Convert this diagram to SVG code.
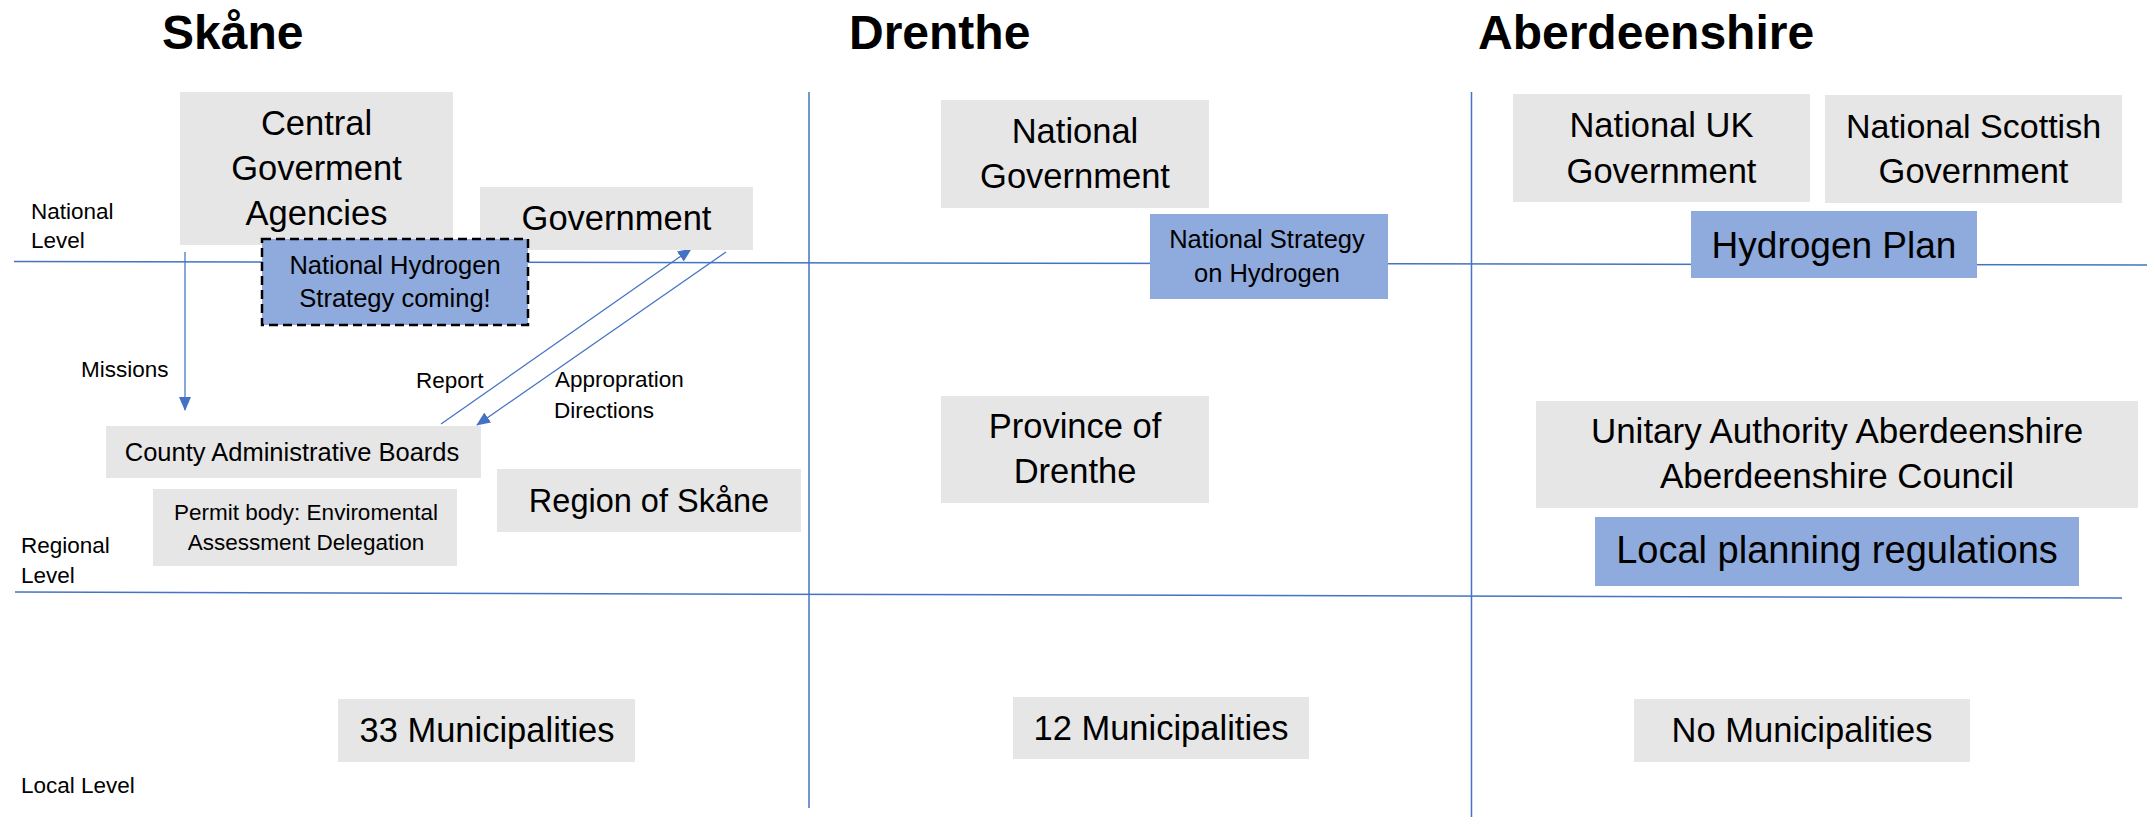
<svg xmlns="http://www.w3.org/2000/svg" width="2147" height="818" viewBox="0 0 2147 818">
<style>
text{font-family:"Liberation Sans",Arial,sans-serif;fill:#000}
.title{font-weight:bold;font-size:48px}
.lvl{font-size:22.5px}
.g{fill:#E7E6E6}
.b{fill:#8FAADC}
.t{text-anchor:middle}
.grid{stroke:#4472C4;stroke-width:1.5;fill:none}
.arr{stroke:#4472C4;stroke-width:1.25;fill:none;marker-end:url(#ah)}
</style>
<defs>
<marker id="ah" markerUnits="userSpaceOnUse" markerWidth="14" markerHeight="12" viewBox="0 0 14 12" refX="13" refY="6" orient="auto">
<path d="M0,0 L14,6 L0,12 Z" fill="#4472C4"/>
</marker>
</defs>
<rect width="2147" height="818" fill="#fff"/>
<g id="grid">
<line class="grid" x1="14" y1="261.5" x2="2147" y2="265"/>
<line class="grid" x1="15" y1="592" x2="2122" y2="598"/>
<line class="grid" x1="809" y1="92" x2="809" y2="808"/>
<line class="grid" x1="1471.5" y1="92" x2="1471.5" y2="817" stroke-width="1"/>
</g>
<g id="titles">
<text class="title" x="162" y="49" font-size="46.5">Skåne</text>
<text class="title" x="849" y="49">Drenthe</text>
<text class="title" x="1478" y="49">Aberdeenshire</text>
</g>
<g id="levels">
<text class="lvl" x="31" y="219">National</text>
<text class="lvl" x="31" y="248">Level</text>
<text class="lvl" x="21" y="553">Regional</text>
<text class="lvl" x="21" y="583">Level</text>
<text class="lvl" x="21" y="793">Local Level</text>
</g>
<g id="connectors">
<line class="arr" x1="185" y1="252" x2="185" y2="410"/>
<line class="arr" x1="441" y1="424" x2="691" y2="249"/>
<line class="arr" x1="726" y1="252" x2="477" y2="425"/>
<text class="lvl" x="81" y="377">Missions</text>
<text class="lvl" x="416" y="388">Report</text>
<text class="lvl" x="555" y="387">Appropration</text>
<text class="lvl" x="554" y="418">Directions</text>
</g>
<g id="central-agencies">
<rect class="g" x="180" y="92" width="273" height="153"/>
<text class="t" x="316.5" y="135" font-size="34.5">Central</text>
<text class="t" x="316.5" y="180" font-size="34.5">Goverment</text>
<text class="t" x="316.5" y="225" font-size="34.5">Agencies</text>
</g>
<g id="government-se">
<rect class="g" x="480" y="187" width="273" height="63"/>
<text class="t" x="616.5" y="230" font-size="34.5">Government</text>
</g>
<g id="nhs-coming">
<rect class="b" x="262" y="239" width="266" height="86" stroke="#000" stroke-width="2.5" stroke-dasharray="9 5"/>
<text class="t" x="395" y="274" font-size="25.5">National Hydrogen</text>
<text class="t" x="395" y="307" font-size="25.5">Strategy coming!</text>
</g>
<g id="county-boards">
<rect class="g" x="106" y="426" width="375" height="52"/>
<text class="t" x="292" y="461" font-size="25.5">County Administrative Boards</text>
</g>
<g id="permit-body">
<rect class="g" x="153" y="489" width="304" height="77"/>
<text class="t" x="306" y="520" font-size="22.5">Permit body: Enviromental</text>
<text class="t" x="306" y="550" font-size="22.5">Assessment Delegation</text>
</g>
<g id="region-skane">
<rect class="g" x="497" y="469" width="304" height="63"/>
<text class="t" x="649" y="512" font-size="32.5">Region of Skåne</text>
</g>
<g id="mun-33">
<rect class="g" x="338" y="699" width="297" height="63"/>
<text class="t" x="487" y="742" font-size="34.5">33 Municipalities</text>
</g>
<g id="national-gov-nl">
<rect class="g" x="941" y="100" width="268" height="108"/>
<text class="t" x="1075" y="143" font-size="34.5">National</text>
<text class="t" x="1075" y="188" font-size="34.5">Government</text>
</g>
<g id="nsh">
<rect class="b" x="1150" y="214" width="238" height="85"/>
<text class="t" x="1267" y="248" font-size="25.5">National Strategy</text>
<text class="t" x="1267" y="282" font-size="25.5">on Hydrogen</text>
</g>
<g id="province-drenthe">
<rect class="g" x="941" y="396" width="268" height="107"/>
<text class="t" x="1075" y="438" font-size="34.5">Province of</text>
<text class="t" x="1075" y="483" font-size="34.5">Drenthe</text>
</g>
<g id="mun-12">
<rect class="g" x="1013" y="697" width="296" height="62"/>
<text class="t" x="1161" y="740" font-size="34.5">12 Municipalities</text>
</g>
<g id="national-uk">
<rect class="g" x="1513" y="94" width="297" height="108"/>
<text class="t" x="1661.5" y="137" font-size="34.5">National UK</text>
<text class="t" x="1661.5" y="183" font-size="34.5">Government</text>
</g>
<g id="national-scot">
<rect class="g" x="1825" y="95" width="297" height="108"/>
<text class="t" x="1973.5" y="138" font-size="34">National Scottish</text>
<text class="t" x="1973.5" y="183" font-size="34.5">Government</text>
</g>
<g id="hydrogen-plan">
<rect class="b" x="1691" y="211" width="286" height="67"/>
<text class="t" x="1834" y="258" font-size="37">Hydrogen Plan</text>
</g>
<g id="unitary">
<rect class="g" x="1536" y="401" width="602" height="107"/>
<text class="t" x="1837" y="443" font-size="35">Unitary Authority Aberdeenshire</text>
<text class="t" x="1837" y="488" font-size="35">Aberdeenshire Council</text>
</g>
<g id="local-planning">
<rect class="b" x="1595" y="517" width="484" height="69"/>
<text class="t" x="1837" y="563" font-size="38">Local planning regulations</text>
</g>
<g id="no-mun">
<rect class="g" x="1634" y="699" width="336" height="63"/>
<text class="t" x="1802" y="742" font-size="34.5">No Municipalities</text>
</g>
</svg>
